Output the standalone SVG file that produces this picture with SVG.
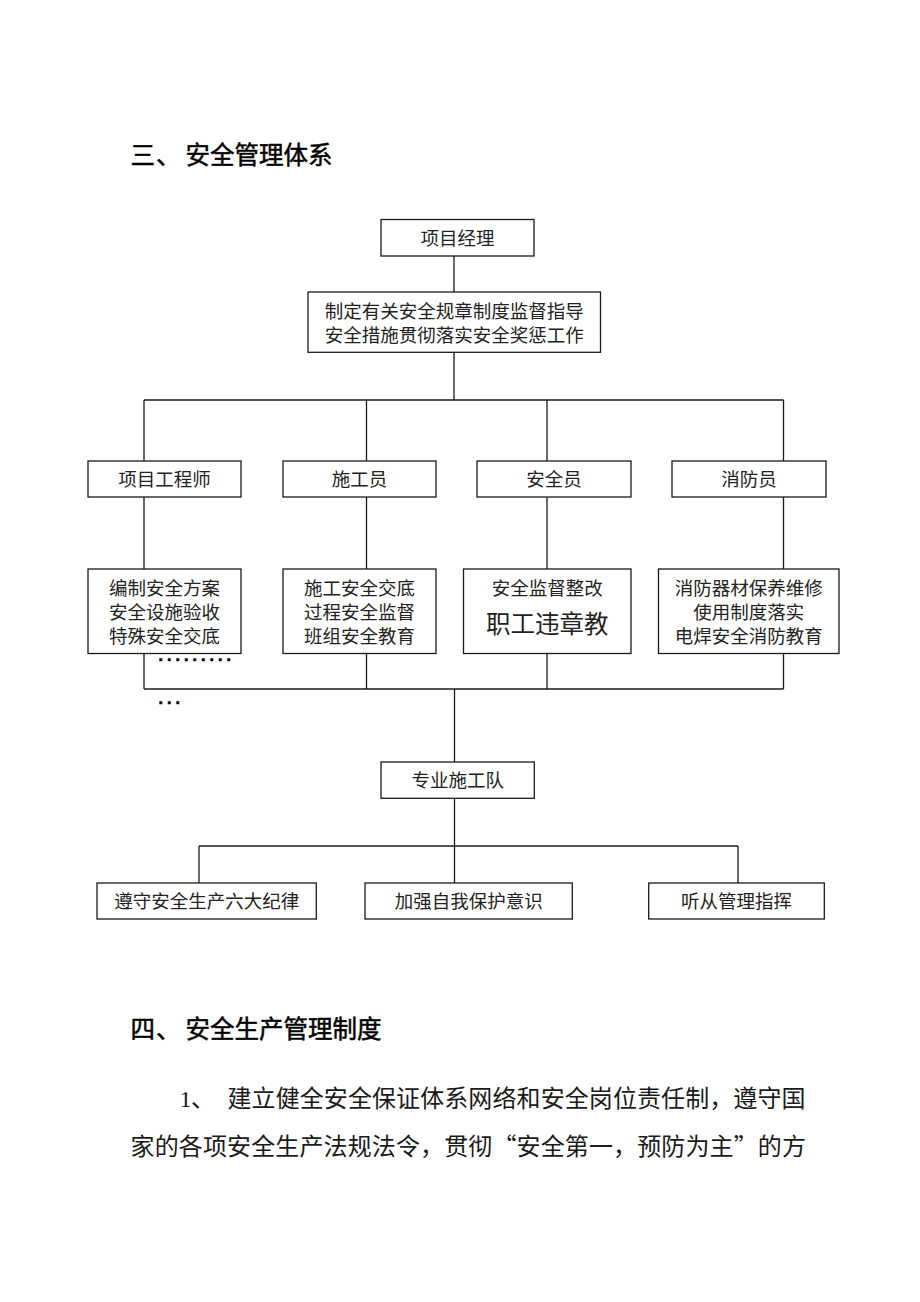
<svg xmlns="http://www.w3.org/2000/svg" width="920" height="1302" viewBox="0 0 920 1302">
<style>
  .bg { fill: #ffffff; }
  .box { fill: #ffffff; stroke: #1a1a1a; stroke-width: 1.3; }
  .ln { fill: none; stroke: #1a1a1a; stroke-width: 1.3; }
  .t { font-family: "Noto Sans CJK SC", "Liberation Sans", sans-serif; font-size: 18.5px; fill: #222; text-anchor: middle; }
  .tb { font-family: "Noto Sans CJK SC", "Liberation Sans", sans-serif; font-size: 24.5px; fill: #222; text-anchor: middle; }
  .h { font-family: "Noto Sans CJK SC", "Liberation Sans", sans-serif; font-size: 24.5px; fill: #000; stroke: #000; stroke-width: 0.5; }
  .p { font-family: "Noto Sans CJK SC", "Liberation Serif", sans-serif; font-size: 24px; fill: #1a1a1a; }
  .num { font-family: "Liberation Serif", "Noto Sans CJK SC", serif; font-size: 24px; fill: #1a1a1a; }
  .dots { font-family: "Liberation Sans", sans-serif; font-size: 16px; font-weight: bold; fill: #000; stroke: #000; stroke-width: 0.6; letter-spacing: 4.05px; }
</style>
<rect class="bg" x="0" y="0" width="920" height="1302"/>

<g id="heading3">
  <text class="h" x="130.5" y="164.3">三</text>
  <text class="h" x="156" y="164.3">、</text>
  <text class="h" x="185.5" y="164.3">安全管理体系</text>
</g>

<g id="connectors">
  <line class="ln" x1="454" y1="256" x2="454" y2="292"/>
  <line class="ln" x1="454" y1="352.3" x2="454" y2="400"/>
  <line class="ln" x1="144" y1="400" x2="783.5" y2="400"/>
  <line class="ln" x1="144" y1="400" x2="144" y2="461"/>
  <line class="ln" x1="366.5" y1="400" x2="366.5" y2="461"/>
  <line class="ln" x1="547" y1="400" x2="547" y2="461"/>
  <line class="ln" x1="783.5" y1="400" x2="783.5" y2="461"/>
  <line class="ln" x1="144" y1="497" x2="144" y2="569"/>
  <line class="ln" x1="366.5" y1="497" x2="366.5" y2="569"/>
  <line class="ln" x1="547" y1="497" x2="547" y2="569"/>
  <line class="ln" x1="783.5" y1="497" x2="783.5" y2="569"/>
  <line class="ln" x1="144" y1="653.5" x2="144" y2="689"/>
  <line class="ln" x1="366.5" y1="653.5" x2="366.5" y2="689"/>
  <line class="ln" x1="547" y1="653.5" x2="547" y2="689"/>
  <line class="ln" x1="783.5" y1="653.5" x2="783.5" y2="689"/>
  <line class="ln" x1="144" y1="689" x2="783.5" y2="689"/>
  <line class="ln" x1="454.5" y1="689" x2="454.5" y2="762"/>
  <line class="ln" x1="454.5" y1="798.3" x2="454.5" y2="883"/>
  <line class="ln" x1="199" y1="846" x2="738" y2="846"/>
  <line class="ln" x1="199" y1="846" x2="199" y2="883"/>
  <line class="ln" x1="738" y1="846" x2="738" y2="883"/>
</g>

<g id="n-pm">
  <rect class="box" x="381" y="219.5" width="153" height="36.5"/>
  <text class="t" x="457.5" y="244.8">项目经理</text>
</g>
<g id="n-duty">
  <rect class="box" x="308" y="292" width="292.5" height="60.3"/>
  <text class="t" x="454.3" y="318">制定有关安全规章制度监督指导</text>
  <text class="t" x="454.3" y="342">安全措施贯彻落实安全奖惩工作</text>
</g>

<g id="n-eng">
  <rect class="box" x="88" y="461" width="153" height="36"/>
  <text class="t" x="164.5" y="486">项目工程师</text>
</g>
<g id="n-con">
  <rect class="box" x="283" y="461" width="153" height="36"/>
  <text class="t" x="359.5" y="486">施工员</text>
</g>
<g id="n-saf">
  <rect class="box" x="477" y="461" width="154" height="36"/>
  <text class="t" x="554" y="486">安全员</text>
</g>
<g id="n-fire">
  <rect class="box" x="672" y="461" width="154" height="36"/>
  <text class="t" x="749" y="486">消防员</text>
</g>

<g id="n-eng-tasks">
  <rect class="box" x="88" y="569" width="153" height="84.5"/>
  <text class="t" x="164.5" y="595">编制安全方案</text>
  <text class="t" x="164.5" y="619">安全设施验收</text>
  <text class="t" x="164.5" y="643">特殊安全交底</text>
</g>
<g id="n-con-tasks">
  <rect class="box" x="283" y="569" width="153" height="84.5"/>
  <text class="t" x="359.5" y="595">施工安全交底</text>
  <text class="t" x="359.5" y="619">过程安全监督</text>
  <text class="t" x="359.5" y="643">班组安全教育</text>
</g>
<g id="n-saf-tasks">
  <rect class="box" x="463.5" y="569" width="167.5" height="84.5"/>
  <text class="t" x="547.3" y="595">安全监督整改</text>
  <text class="tb" x="547.3" y="633.3">职工违章教</text>
</g>
<g id="n-fire-tasks">
  <rect class="box" x="658.5" y="569" width="180.5" height="84.5"/>
  <text class="t" x="748.8" y="595">消防器材保养维修</text>
  <text class="t" x="748.8" y="619">使用制度落实</text>
  <text class="t" x="748.8" y="643">电焊安全消防教育</text>
</g>

<g id="ellipsis">
  <text class="dots" x="158.5" y="661">.........</text>
  <text class="dots" x="158.5" y="703.5">...</text>
</g>

<g id="n-team">
  <rect class="box" x="381" y="762" width="153.3" height="36.3"/>
  <text class="t" x="457.7" y="787">专业施工队</text>
</g>

<g id="n-b1">
  <rect class="box" x="97" y="883" width="219.3" height="36"/>
  <text class="t" x="206.7" y="908">遵守安全生产六大纪律</text>
</g>
<g id="n-b2">
  <rect class="box" x="365" y="883" width="207.3" height="36"/>
  <text class="t" x="468.7" y="908">加强自我保护意识</text>
</g>
<g id="n-b3">
  <rect class="box" x="648.7" y="883" width="175.6" height="36"/>
  <text class="t" x="736.5" y="908">听从管理指挥</text>
</g>

<g id="heading4">
  <text class="h" x="130.5" y="1037.6">四</text>
  <text class="h" x="156" y="1037.6">、</text>
  <text class="h" x="185.5" y="1037.6">安全生产管理制度</text>
</g>

<g id="paragraph">
  <text class="num" x="179.5" y="1107">1</text>
  <text class="p" x="191" y="1107">、</text>
  <text class="p" x="227.5" y="1107" textLength="578" lengthAdjust="spacing">建立健全安全保证体系网络和安全岗位责任制，遵守国</text>
  <text class="p" x="130.5" y="1155" textLength="675.5" lengthAdjust="spacing">家的各项安全生产法规法令，贯彻“安全第一，预防为主”的方</text>
</g>
</svg>
